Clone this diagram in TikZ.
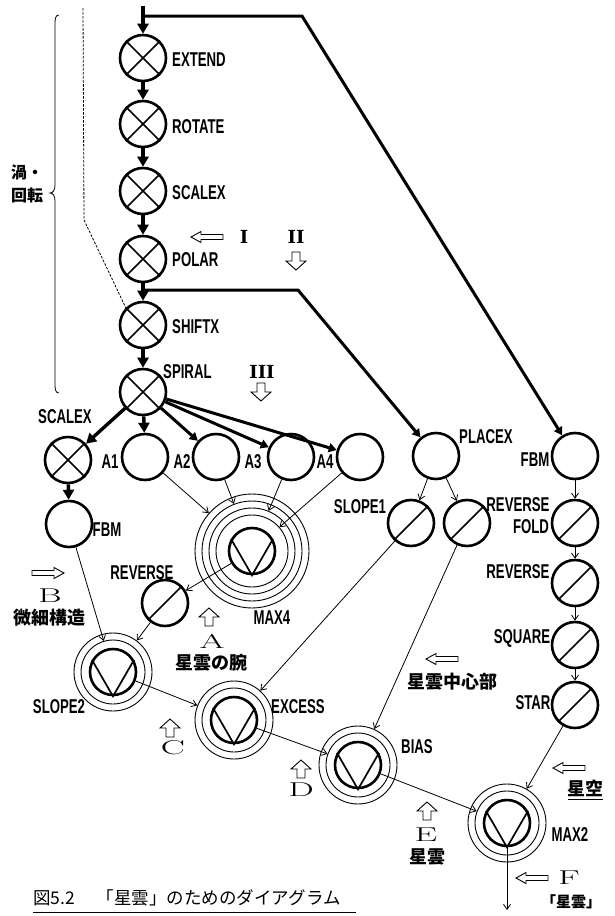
\documentclass[tikz,border=0pt]{standalone}
\usepackage{fontspec}
\usepackage{graphicx}
\newfontfamily\labfont{Liberation Sans}[FakeStretch=0.66]
\newfontfamily\jpfont{Noto Sans CJK JP}
\newfontfamily\romfont{DejaVu Serif}
\usetikzlibrary{arrows.meta}
\newcommand\wideletter[1]{\scalebox{1.8}[1]{#1}}
\newcommand\hollowH[3]{\draw[hollow,shift={(#1,#2)},rotate=#3] (16,0) -- (6,-5.5) -- (6,-2.5) -- (-16,-2.5) -- (-16,2.5) -- (6,2.5) -- (6,5.5) -- cycle;}
\newcommand\hollowV[3]{\draw[hollow,shift={(#1,#2)},rotate=#3] (9,0) -- (0,-10) -- (0,-4) -- (-9,-4) -- (-9,4) -- (0,4) -- (0,10) -- cycle;}
\begin{document}
\begin{tikzpicture}[x=1pt,y=-1pt,
  nd/.style={circle, draw, line width=2.6pt, minimum size=46pt, inner sep=0pt},
  ring/.style={circle, draw, line width=0.9pt, inner sep=0pt},
  lab/.style={font=\labfont\bfseries\fontsize{20}{20}\selectfont, inner sep=0pt},
  jp/.style={font=\jpfont\bfseries\fontsize{18}{18}\selectfont, inner sep=0pt},
  captext/.style={font=\jpfont\fontsize{17.5}{17.5}\selectfont, inner sep=0pt},
  letter/.style={font=\fontsize{20}{20}\selectfont, inner sep=0pt},
  roman/.style={font=\romfont\bfseries\fontsize{18}{18}\selectfont, inner sep=0pt},
  thk/.style={line width=3.4pt, -{Triangle[length=10pt,width=11pt]}},
  thkb/.style={line width=3pt, -{Triangle[length=8pt,width=9pt]}},
  thn/.style={line width=0.8pt, -{Straight Barb[length=5pt,width=7pt]}},
  sym/.style={line width=1.7pt},
  hollow/.style={draw, fill=white, line width=0.9pt, line join=miter}
]
\useasboundingbox (0,0) rectangle (615,916);

% main column
\node[nd] (extend) at (143,58) {};
\node[nd] (rotate) at (143,124) {};
\node[nd] (scalex) at (143,191) {};
\node[nd] (polar) at (143,259) {};
\node[nd] (shiftx) at (143,325) {};
\node[nd] (spiral) at (143,392) {};
% second row
\node[nd] (scalexL) at (68,460) {};
\node[nd] (a1) at (145,457) {};
\node[nd] (a2) at (216,457) {};
\node[nd] (a3) at (291,457) {};
\node[nd] (a4) at (360,457) {};
\node[nd] (placex) at (436,456) {};
\node[nd] (fbmR) at (575,456) {};
\node[nd] (fbmL) at (69,524) {};
\node[nd] (revL) at (165,603) {};
\node[nd] (slope1) at (411,523) {};
\node[nd] (revM) at (467,523) {};
\node[nd] (fold) at (575,523) {};
\node[nd] (revR) at (575,583) {};
\node[nd] (square) at (575,645) {};
\node[nd] (star) at (575,705) {};
% max nodes
\node[nd] (max4) at (252,551) {};
\node[ring, minimum size=72pt] (max4a) at (max4) {};
\node[ring, minimum size=86pt] (max4b) at (max4) {};
\node[ring, minimum size=100pt] (max4c) at (max4) {};
\node[ring, minimum size=114pt] (max4d) at (max4) {};
\node[nd] (slope2) at (113,672) {};
\node[ring, minimum size=64pt] (slope2a) at (slope2) {};
\node[ring, minimum size=78pt] (slope2b) at (slope2) {};
\node[nd] (excess) at (234,720) {};
\node[ring, minimum size=64pt] (excessa) at (excess) {};
\node[ring, minimum size=78pt] (excessb) at (excess) {};
\node[nd] (bias) at (358,765) {};
\node[ring, minimum size=64pt] (biasa) at (bias) {};
\node[ring, minimum size=78pt] (biasb) at (bias) {};
\node[nd] (max2) at (507,823) {};
\node[ring, minimum size=64pt] (max2a) at (max2) {};
\node[ring, minimum size=78pt] (max2b) at (max2) {};

% symbols inside circles
\foreach \n in {extend,rotate,scalex,polar,shiftx,spiral,scalexL}
  \draw[sym] (\n.45) -- (\n.225) (\n.135) -- (\n.315);
\foreach \n in {revL,slope1,revM,fold,revR,square,star}
  \draw[sym] (\n.225) -- (\n.45);
\foreach \n in {max4,slope2,excess,bias,max2}
  \draw[sym] (\n.150) -- (\n.south) -- (\n.30);

% coordinates for free ends
\coordinate (top) at (143,6);
\coordinate (br1) at (143,16);
\coordinate (bend1) at (302,16);
\coordinate (br2) at (143,290);
\coordinate (bend2) at (298,290);
\coordinate (out) at (507,910);
\coordinate (dot1) at (83,8);
\coordinate (dot2) at (84,220);

% thick connectors
\draw[thk] (top) -- (extend);
\draw[thk] (extend) -- (rotate);
\draw[thk] (rotate) -- (scalex);
\draw[thk] (scalex) -- (polar);
\draw[thk] (polar) -- (shiftx);
\draw[thk] (shiftx) -- (spiral);
\draw[thkb, line join=miter] (br1) -- (bend1) -- (fbmR);
\draw[thkb, line join=miter] (br2) -- (bend2) -- (placex);
\draw[thk] (spiral) -- (scalexL);
\draw[thk] (spiral) -- (a1);
\draw[thkb] (spiral) -- (a2);
\draw[thkb] (spiral) -- (a3);
\draw[thkb] (spiral) -- (a4);
\draw[thk] (scalexL) -- (fbmL);

% thin connectors
\draw[thn] (a1) -- (max4d);
\draw[thn] (a2) -- (max4c);
\draw[thn] (a3) -- (max4b);
\draw[thn] (a4) -- (max4a);
\draw[thn] (max4) -- (revL);
\draw[thn] (revL) -- (slope2b);
\draw[thn] (fbmL) -- (slope2a);
\draw[thn] (slope2) -- (excessb);
\draw[thn] (slope1) -- (excessb);
\draw[thn] (excess) -- (biasa);
\draw[thn] (revM) -- (biasb);
\draw[thn] (bias) -- (max2a);
\draw[thn] (star) -- (max2b);
\draw[thn] (placex) -- (slope1);
\draw[thn] (placex) -- (revM);
\draw[thn] (fbmR) -- (fold);
\draw[thn] (fold) -- (revR);
\draw[thn] (revR) -- (square);
\draw[thn] (square) -- (star);
\draw[thn] (max2.south) -- (out);

% dotted guide line
\draw[line width=0.8pt, dash pattern=on 2.5pt off 1.5pt] (dot1) -- (dot2) -- (shiftx.135);

% brace
\draw[line width=0.8pt] (59,15) .. controls (56,15) and (55,18) .. (55,23) -- (55,185)
  .. controls (55,190) and (53,193) .. (50,193) .. controls (53,193) and (55,196) .. (55,201)
  -- (55,385) .. controls (55,390) and (56,393) .. (59,393);
\node[jp, anchor=west, font=\jpfont\bfseries\fontsize{16}{16}\selectfont] (uzu) at (11,172) {渦・};
\node[jp, anchor=west, font=\jpfont\bfseries\fontsize{16}{16}\selectfont] (kaiten) at (11,195) {回転};

% node labels
\node[lab, anchor=west] (lextend) at (172,60) {EXTEND};
\node[lab, anchor=west] (lrotate) at (172,127) {ROTATE};
\node[lab, anchor=west] (lscalex) at (172,193) {SCALEX};
\node[lab, anchor=west] (lpolar) at (172,260) {POLAR};
\node[lab, anchor=west] (lshiftx) at (172,327) {SHIFTX};
\node[lab, anchor=west] (lspiral) at (163,372) {SPIRAL};
\node[lab] (lscalexL) at (65,417) {SCALEX};
\node[lab] (la1) at (110,462) {A1};
\node[lab] (la2) at (182,462) {A2};
\node[lab] (la3) at (253,462) {A3};
\node[lab] (la4) at (325,462) {A4};
\node[lab] (lplacex) at (486,437) {PLACEX};
\node[lab] (lfbmR) at (535,460) {FBM};
\node[lab] (lfbmL) at (107,530) {FBM};
\node[lab] (lrevL) at (142,573) {REVERSE};
\node[lab] (lmax4) at (272,618) {MAX4};
\node[lab] (lslope1) at (360,507) {SLOPE1};
\node[lab] (lrevM) at (518,505) {REVERSE};
\node[lab] (lfold) at (531,527) {FOLD};
\node[lab] (lrevR) at (518,572) {REVERSE};
\node[lab] (lsquare) at (522,638) {SQUARE};
\node[lab] (lstar) at (533,703) {STAR};
\node[lab] (lslope2) at (59,707) {SLOPE2};
\node[lab] (lexcess) at (298,707) {EXCESS};
\node[lab] (lbias) at (417,747) {BIAS};
\node[lab] (lmax2) at (570,835) {MAX2};

% hollow arrows
\hollowH{207}{237}{180}
\hollowV{296}{261}{-90}
\hollowV{261}{392}{-90}
\hollowH{48}{573}{0}
\hollowV{209}{617}{90}
\hollowV{170}{728}{90}
\hollowV{301}{769}{90}
\hollowH{442}{659}{180}
\hollowH{569}{768}{180}
\hollowV{427}{811}{90}
\hollowH{532}{878}{180}

% markers
\node[roman] (rI) at (244,237) {I};
\node[roman] (rII) at (296,237) {II};
\node[roman] (rIII) at (262,372) {III};
\node[letter] (lB) at (50,596) {\wideletter{B}};
\node[jp] (tB) at (49,618) {微細構造};
\node[letter] (lA) at (212,641) {\wideletter{A}};
\node[jp] (tA) at (211,663) {星雲の腕};
\node[letter] (lC) at (173,748) {\wideletter{C}};
\node[letter] (lD) at (301,790) {\wideletter{D}};
\node[jp] (tcenter) at (452,682) {星雲中心部};
\node[jp] (tsky) at (585,788) {星空};
\draw[line width=0.8pt] (568,799) -- (603,799);
\node[letter] (lE) at (426,835) {\wideletter{E}};
\node[jp] (tE) at (427,857) {星雲};
\node[letter] (lF) at (569,878) {\wideletter{F}};
\node[jp, font=\jpfont\bfseries\fontsize{15}{15}\selectfont] (tF) at (571,902) {「星雲」};

% caption
\node[captext, anchor=west] (caption) at (33,898) {図5.2\hspace{22pt}「星雲」のためのダイアグラム};
\draw[line width=0.8pt] (33,912) -- (356,912);
\end{tikzpicture}
\end{document}
